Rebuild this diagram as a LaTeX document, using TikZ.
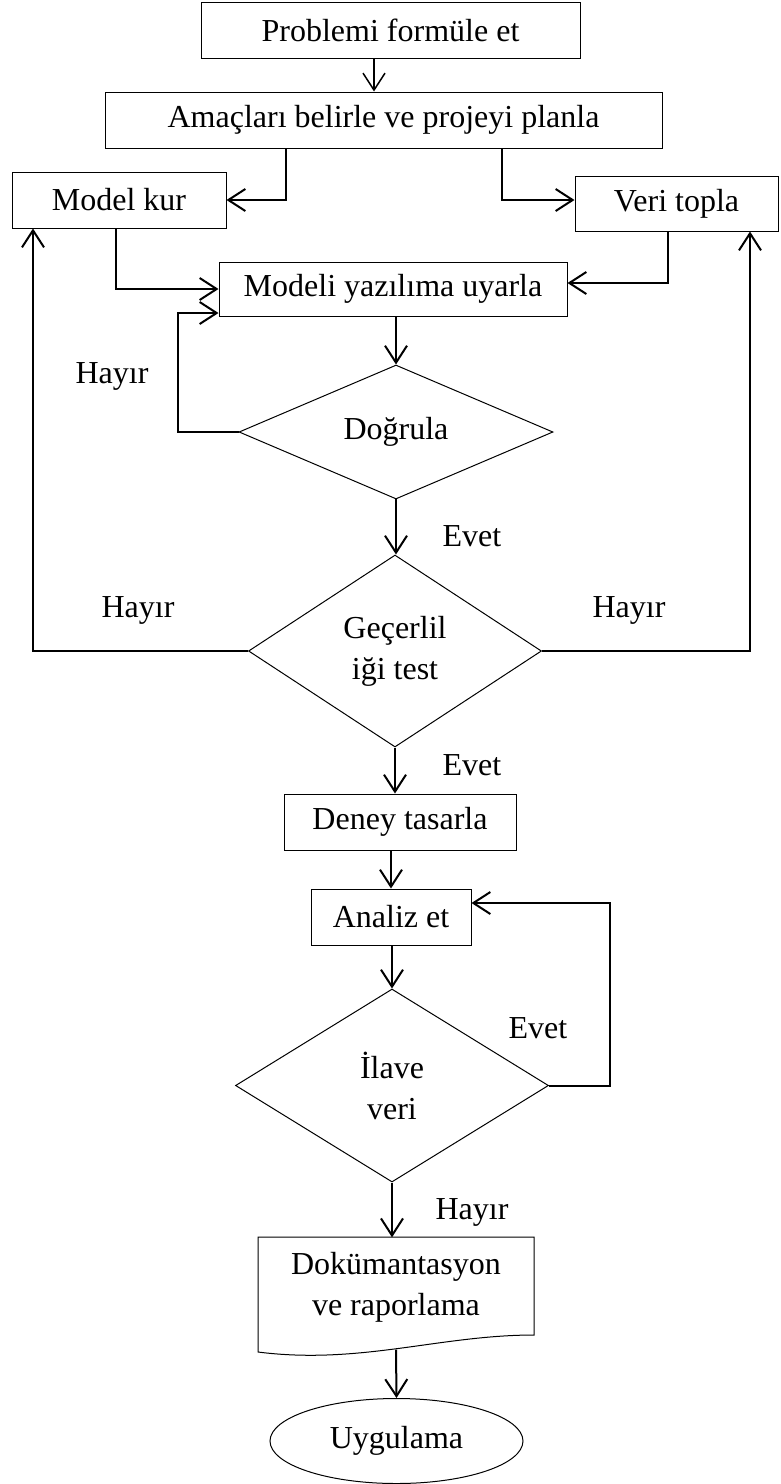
\documentclass[tikz,border=0pt]{standalone}
\usepackage{fontspec}
\setmainfont{Liberation Serif}
\usetikzlibrary{arrows.meta,shapes.geometric}
\begin{document}
\begin{tikzpicture}[x=1pt,y=-1pt,
  txt/.style={font=\fontsize{32}{41}\selectfont, inner sep=0pt, align=center},
  box/.style={txt, draw, line width=1pt, rectangle},
  dec/.style={txt, draw, line width=1pt, diamond},
  conn/.style={line width=2pt, -{Straight Barb[length=17pt,width=22pt]}}
]
\useasboundingbox (0,0) rectangle (780,1484);

% process steps
\node[box, minimum width=379pt, minimum height=56pt] (b1) at (390.5,30) {Problemi formüle et};
\node[box, minimum width=557pt, minimum height=56pt] (b2) at (383.5,120) {Amaçları belirle ve projeyi planla};
\node[box, minimum width=214pt, minimum height=56pt] (model) at (119,200) {Model kur};
\node[box, minimum width=203pt, minimum height=55pt] (veri) at (676.5,203.5) {Veri topla};
\node[box, minimum width=348pt, minimum height=54pt] (modeli) at (393,289) {Modeli yazılıma uyarla};
\node[dec, minimum width=314pt, minimum height=130pt] (dogrula) at (396,432) {Doğrula};
\node[dec, minimum width=293pt, minimum height=192pt] (gecer) at (395,651) {Geçerlil\\iği test};
\node[box, minimum width=232pt, minimum height=56pt] (deney) at (400,822) {Deney tasarla};
\node[box, minimum width=160pt, minimum height=56pt] (analiz) at (391,917) {Analiz et};
\node[dec, minimum width=313pt, minimum height=193pt] (ilave) at (392,1085.5) {İlave\\veri};
\node[txt, minimum width=276pt, minimum height=100pt] (doc) at (396,1287.5) {Dokümantasyon\\ve raporlama};
\node[txt, draw, line width=1pt, ellipse, minimum width=253pt, minimum height=85pt] (uyg) at (396.5,1441) {Uygulama};

% document symbol with wavy lower edge
\draw[line width=1pt] (258,1352) -- (258,1237) -- (534,1237) -- (534,1335)
  .. controls (440,1335) and (360,1365) .. (258,1352) -- cycle;

% connector columns and corners
\coordinate (x374) at (374,0);
\coordinate (x286) at (286,0);
\coordinate (x502) at (502,0);
\coordinate (x116) at (116,0);
\coordinate (x668) at (668,0);
\coordinate (lx) at (33,0);
\coordinate (rx) at (750,0);
\coordinate (lp) at (178,313);
\coordinate (rp) at (610,903);

% connectors
\draw[conn, line width=1.5pt] (b1.south -| x374) -- (b2.north -| x374);
\draw[conn] (b2.south -| x286) |- (model.east);
\draw[conn] (b2.south -| x502) |- (veri.west |- model.east);
\draw[conn] (model.south -| x116) |- (modeli.west);
\draw[conn] (veri.south -| x668) |- ([yshift=6pt]modeli.east);
\draw[conn] (modeli.south -| dogrula.north) -- (dogrula.north);
\draw[conn] (dogrula.west) -| (lp) -- (modeli.west |- lp);
\draw[conn] (dogrula.south) -- (dogrula.south |- gecer.north);
\draw[conn] (gecer.west) -| (model.south -| lx);
\draw[conn] (gecer.east) -| (veri.south -| rx);
\draw[conn] (gecer.south) -- (gecer.south |- deney.north);
\draw[conn] (deney.south -| analiz.north) -- (analiz.north);
\draw[conn] (ilave.north |- analiz.south) -- (ilave.north);
\draw[conn] (ilave.east) -| (rp) -- (analiz.east |- rp);
\draw[conn] (ilave.south) -- (ilave.south |- doc.north);
\draw[conn] ([yshift=-12pt]doc.south) -- (uyg.north);

% branch labels
\node[txt] (h1) at (112,376) {Hayır};
\node[txt] (e1) at (472,536) {Evet};
\node[txt] (h2) at (138,610) {Hayır};
\node[txt] (h3) at (629,610) {Hayır};
\node[txt] (e2) at (472,765) {Evet};
\node[txt] (e3) at (538,1028) {Evet};
\node[txt] (h4) at (472,1212) {Hayır};
\end{tikzpicture}
\end{document}
